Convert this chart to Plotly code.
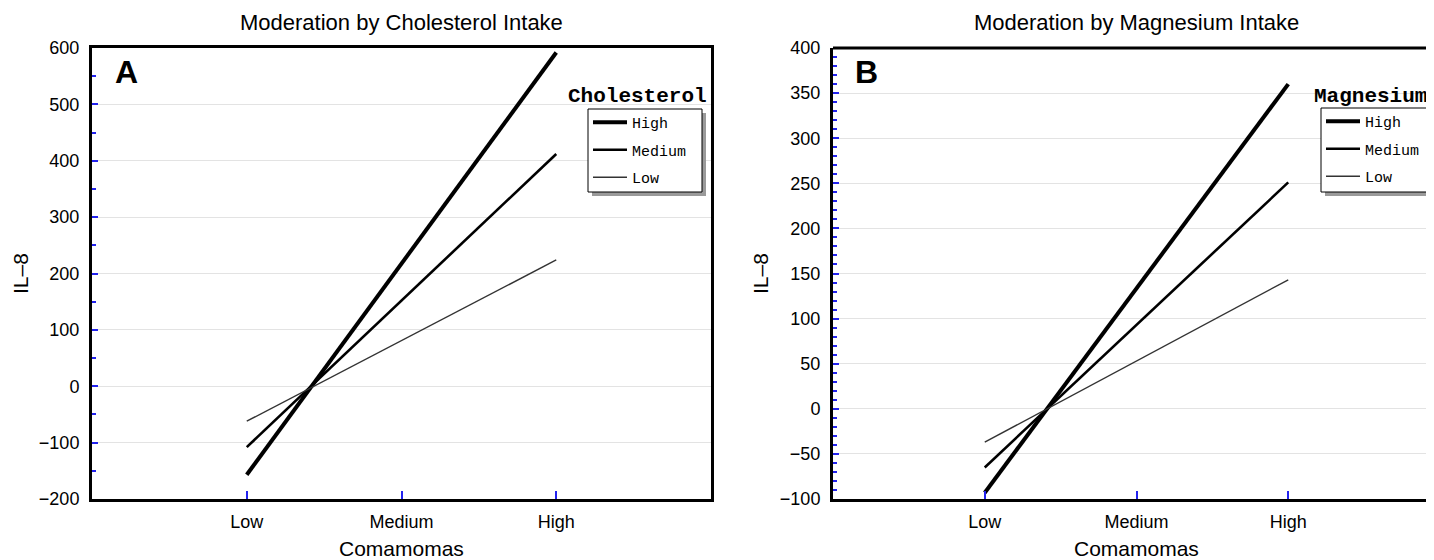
import plotly.graph_objects as go

# ---- data ----
categories = ["Low", "Medium", "High"]
moderator_levels = ["High", "Medium", "Low"]

chol_high = [-157, 217.5, 592]
chol_medium = [-108, 152, 412]
chol_low = [-62, 81, 224]

mag_high = [-93, 133.5, 360]
mag_medium = [-65, 93, 251]
mag_low = [-37, 53, 143]

titles = ["Moderation by Cholesterol Intake", "Moderation by Magnesium Intake"]
panel_labels = ["A", "B"]
legend_titles = ["Cholesterol", "Magnesium"]
x_title = "Comamomas"
y_title = "IL\u20138"

# page has an 8px body margin: the figure is shrunk and all positions shifted
OFF = 8
SW, SH = 1434, 560
W, H = SW - OFF, SH - OFF
widths = [4, 2.6, 1.4]
colors = ["#000000", "#000000", "#333333"]

fig = go.Figure()

series_a = [chol_high, chol_medium, chol_low]
series_b = [mag_high, mag_medium, mag_low]

for i, (name, ys) in enumerate(zip(moderator_levels, series_a)):
    fig.add_trace(go.Scatter(x=categories, y=ys, mode="lines", name=name,
                             line=dict(color=colors[i], width=widths[i]),
                             xaxis="x", yaxis="y", legend="legend",
                             legendgroup="a" + name))
for i, (name, ys) in enumerate(zip(moderator_levels, series_b)):
    fig.add_trace(go.Scatter(x=categories, y=ys, mode="lines", name=name,
                             line=dict(color=colors[i], width=widths[i]),
                             xaxis="x2", yaxis="y2", legend="legend2",
                             legendgroup="b" + name))

# screen-pixel geometry
A_l, A_r = 92, 711
B_l, B_r = 833, 1440
top, bot = 48, 499

def px(x):
    return (x - OFF) / W

def py(y):
    return 1 - (y - OFF) / H

ydom = [py(bot), py(top)]

font_main = "Liberation Sans, Arial, sans-serif"
mono = "Liberation Mono, DejaVu Sans Mono, monospace"

common_x = dict(type="category", tickmode="array", tickvals=categories,
                ticks="inside", ticklen=8, tickwidth=1.5, tickcolor="#2222ee",
                showgrid=False, zeroline=False, showline=True, linecolor="black",
                linewidth=3, tickfont=dict(family=font_main, size=18, color="black"),
                ticklabelstandoff=4, automargin=False)
common_y = dict(ticks="inside", ticklen=6, tickwidth=1.5, tickcolor="#2222ee",
                showgrid=True, gridcolor="#e3e3e3", gridwidth=1, zeroline=False,
                showline=True, linecolor="black", linewidth=3,
                tickfont=dict(family=font_main, size=18, color="black"),
                ticklabelstandoff=6, automargin=False)

B_unit = (B_r - B_l) / 4.0
B_xmax = -1 + (SW - B_l) / B_unit

leg_common = dict(xanchor="left", yanchor="top", bgcolor="rgba(0,0,0,0)",
                  borderwidth=0,
                  font=dict(family=mono, size=15, color="black"),
                  tracegroupgap=5, itemwidth=34)

fig.update_layout(
    width=W, height=H,
    margin=dict(l=0, r=0, t=0, b=0, autoexpand=False),
    paper_bgcolor="white", plot_bgcolor="white",
    showlegend=True,
    xaxis=dict(common_x, domain=[px(A_l), px(A_r)], range=[-1, 3], mirror=True,
               anchor="y"),
    yaxis=dict(common_y, domain=ydom, range=[-200, 600], dtick=100, mirror=True,
               anchor="x",
               minor=dict(dtick=50, ticks="inside", ticklen=4, tickcolor="#2222ee",
                          showgrid=False)),
    xaxis2=dict(common_x, domain=[px(B_l), 1], range=[-1, B_xmax], anchor="y2"),
    yaxis2=dict(common_y, domain=ydom, range=[-100, 400], dtick=50, anchor="x2",
                minor=dict(dtick=10, ticks="inside", ticklen=4, tickcolor="#2222ee",
                           showgrid=False)),
    legend=dict(leg_common, x=px(588), y=py(106)),
    legend2=dict(leg_common, x=px(1321), y=py(105)),
)

shapes = []
shapes.append(dict(type="line", xref="x2 domain", yref="y2 domain", x0=0, x1=1,
                   y0=1, y1=1, line=dict(color="black", width=3)))
# legend frames with drop shadows
for (l, t, r, b) in [(588, 109, 702, 192), (1321, 108, 1432, 192)]:
    shapes.append(dict(type="rect", xref="paper", yref="paper",
                       x0=px(l + 4), x1=px(min(r + 4, SW)), y0=py(b + 4), y1=py(t + 4),
                       fillcolor="#9a9a9a", line=dict(width=0), layer="above"))
    shapes.append(dict(type="rect", xref="paper", yref="paper",
                       x0=px(l), x1=px(r), y0=py(b), y1=py(t),
                       fillcolor="white", line=dict(color="black", width=1),
                       layer="above"))
fig.update_layout(shapes=shapes)

ann = []
centers = [(A_l + A_r) / 2, (B_l + B_r) / 2]
for c, t in zip(centers, titles):
    ann.append(dict(text=t, x=px(c), y=py(22), xref="paper", yref="paper",
                    showarrow=False, xanchor="center", yanchor="middle",
                    font=dict(family=font_main, size=22, color="black")))
    ann.append(dict(text=x_title, x=px(c), y=py(548), xref="paper", yref="paper",
                    showarrow=False, xanchor="center", yanchor="middle",
                    font=dict(family=font_main, size=21, color="black")))
for xx in [21, 761]:
    ann.append(dict(text=y_title, x=px(xx), y=py(274), xref="paper", yref="paper",
                    showarrow=False, xanchor="center", yanchor="middle", textangle=-90,
                    font=dict(family=font_main, size=21, color="black")))
for xx, lab in zip([126, 866], panel_labels):
    ann.append(dict(text="<b>" + lab + "</b>", x=px(xx), y=py(72), xref="paper",
                    yref="paper", showarrow=False, xanchor="center", yanchor="middle",
                    font=dict(family=font_main, size=32, color="black")))
for xx, lab in zip([637, 1370], legend_titles):
    ann.append(dict(text="<b>" + lab + "</b>", x=px(xx), y=py(96), xref="paper",
                    yref="paper", showarrow=False, xanchor="center", yanchor="middle",
                    font=dict(family=mono, size=21, color="black")))
fig.update_layout(annotations=ann)

fig.write_html("out.html")
